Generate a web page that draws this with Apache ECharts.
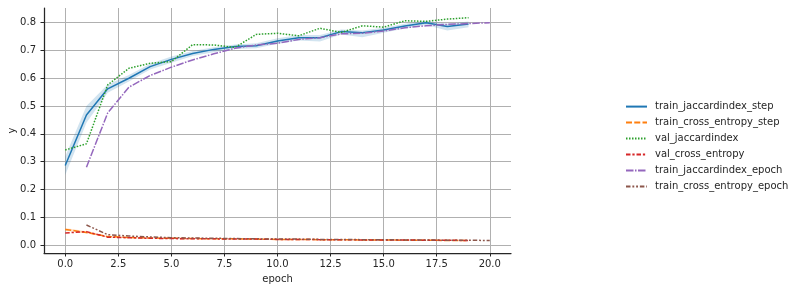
<!DOCTYPE html>
<html><head><meta charset="utf-8">
<script src="https://cdn.jsdelivr.net/npm/echarts@6/dist/echarts.min.js"></script>
<style>html,body{margin:0;padding:0;background:#fff}#c{width:795px;height:291px}</style>
</head><body><div id="c"></div>
<script>
// epochs
const epochsA = [0,1,2,3,4,5,6,7,8,9,10,11,12,13,14,15,16,17,18,19];
const epochsB = [1,2,3,4,5,6,7,8,9,10,11,12,13,14,15,16,17,18,19,20];
// train_jaccardindex_step (mean, ci lower, ci upper)
const trainJacStep = [0.286,0.468,0.562,0.600,0.642,0.668,0.689,0.704,0.714,0.717,0.734,0.746,0.746,0.768,0.764,0.774,0.788,0.800,0.786,0.795];
const trainJacStepLo = [0.252,0.440,0.548,0.588,0.632,0.656,0.680,0.694,0.705,0.708,0.724,0.736,0.732,0.758,0.748,0.764,0.779,0.792,0.772,0.784];
const trainJacStepHi = [0.318,0.500,0.578,0.612,0.652,0.678,0.698,0.712,0.722,0.726,0.744,0.756,0.756,0.776,0.772,0.782,0.796,0.807,0.796,0.804];
// train_cross_entropy_step
const trainCeStep = [0.056,0.045,0.030,0.027,0.025,0.024,0.023,0.022,0.022,0.021,0.020,0.020,0.019,0.019,0.018,0.018,0.017,0.017,0.016,0.016];
const trainCeStepLo = [0.051,0.041,0.028,0.025,0.024,0.023,0.022,0.021,0.021,0.020,0.019,0.019,0.018,0.018,0.017,0.017,0.016,0.016,0.015,0.015];
const trainCeStepHi = [0.061,0.049,0.032,0.029,0.026,0.025,0.024,0.023,0.023,0.022,0.021,0.021,0.020,0.020,0.019,0.019,0.018,0.018,0.017,0.017];
// val metrics
const valJac = [0.342,0.364,0.576,0.636,0.654,0.660,0.721,0.720,0.711,0.758,0.762,0.753,0.780,0.765,0.789,0.784,0.807,0.805,0.813,0.818];
const valCe = [0.043,0.048,0.028,0.026,0.024,0.023,0.022,0.022,0.021,0.021,0.020,0.020,0.019,0.019,0.018,0.018,0.018,0.017,0.017,0.016];
// epoch metrics
const trainJacEpoch = [0.280,0.475,0.568,0.610,0.640,0.666,0.688,0.708,0.720,0.726,0.740,0.746,0.760,0.762,0.770,0.782,0.789,0.794,0.797,0.800];
const trainCeEpoch = [0.072,0.037,0.032,0.029,0.026,0.025,0.024,0.023,0.022,0.021,0.021,0.020,0.020,0.019,0.019,0.018,0.018,0.017,0.017,0.016];
// ticks
const xTicks = [0,2.5,5,7.5,10,12.5,15,17.5,20];
const yTicks = [0,0.1,0.2,0.3,0.4,0.5,0.6,0.7,0.8];
const names = ['train_jaccardindex_step','train_cross_entropy_step','val_jaccardindex','val_cross_entropy','train_jaccardindex_epoch','train_cross_entropy_epoch'];

const colors = ['#1f77b4','#ff7f0e','#2ca02c','#d62728','#9467bd','#8c564b'];
const dashes = ['solid',[6,2.25],[1.5,1.5],[4.5,1.875,2.25,1.875],[7.5,1.5,1.5,1.5],[4.5,1.875,1.875,1.875,1.875,1.875]];
const pair = (xs, ys) => xs.map((x,i)=>[x, ys[i]]);
const font = 'DejaVu Sans';
const txt = '#262626';

function band(xs, lo, hi, color) {
  const data = xs.map((x,i)=>[x, lo[i], hi[i]]);
  return {
    type:'custom', silent:true, z:1, data:data,
    encode:{x:0, y:[1,2]},
    renderItem:(params, api) => {
      if (params.dataIndex !== 0) return null;
      const top = data.map(d => api.coord([d[0], d[2]]));
      const bot = data.map(d => api.coord([d[0], d[1]])).reverse();
      return {type:'polygon', shape:{points: top.concat(bot)}, style:{fill:color, opacity:0.2}};
    }
  };
}
function line(i, xs, ys) {
  return {type:'line', name:names[i], data:pair(xs, ys), symbol:'none', z:3,
    lineStyle:{color:colors[i], width:1.5, type:dashes[i]}, itemStyle:{color:colors[i]}};
}

const series = [
  band(epochsA, trainJacStepLo, trainJacStepHi, colors[0]),
  band(epochsA, trainCeStepLo, trainCeStepHi, colors[1]),
  line(0, epochsA, trainJacStep),
  line(1, epochsA, trainCeStep),
  line(2, epochsA, valJac),
  line(3, epochsA, valCe),
  line(4, epochsB, trainJacEpoch),
  line(5, epochsB, trainCeEpoch)
];

const chart = echarts.init(document.getElementById('c'), null, {renderer:'canvas'});
chart.setOption({
  animation:false,
  backgroundColor:'#fff',
  textStyle:{fontFamily:font},
  grid:{left:44, right:284, top:8, bottom:38, containLabel:false, outerBoundsMode:'none'},
  xAxis:{type:'value', min:-1, max:21,
    name:'epoch', nameLocation:'middle', nameGap:21, nameMoveOverlap:false, nameTextStyle:{fontFamily:font, fontSize:10, color:txt},
    axisLine:{onZero:false, lineStyle:{color:txt, width:1.25}},
    axisTick:{show:true, length:3.5, lineStyle:{color:txt, width:1}, customValues:xTicks},
    axisLabel:{customValues:xTicks, fontFamily:font, fontSize:10, color:txt, margin:6, formatter:v=>v.toFixed(1)},
    splitLine:{show:true, lineStyle:{color:'#b0b0b0', width:1}}
  },
  yAxis:{type:'value', min:-0.029, max:0.853,
    name:'y', nameLocation:'middle', nameGap:27, nameMoveOverlap:false, nameRotate:90, nameTextStyle:{fontFamily:font, fontSize:10, color:txt},
    axisLine:{show:true, onZero:false, lineStyle:{color:txt, width:1.25}},
    axisTick:{show:true, length:3.5, lineStyle:{color:txt, width:1}, customValues:yTicks},
    axisLabel:{customValues:yTicks, fontFamily:font, fontSize:10, color:txt, margin:8, formatter:v=>v.toFixed(1)},
    splitLine:{show:true, lineStyle:{color:'#b0b0b0', width:1}}
  },
  legend:{data:names, orient:'vertical', left:625, top:101, padding:0, itemWidth:21, itemHeight:14, itemGap:4.8,
    itemStyle:{opacity:0},
    textStyle:{fontFamily:font, fontSize:10, color:txt, padding:[0,0,0,3]}},
  series:series
});
</script></body></html>
